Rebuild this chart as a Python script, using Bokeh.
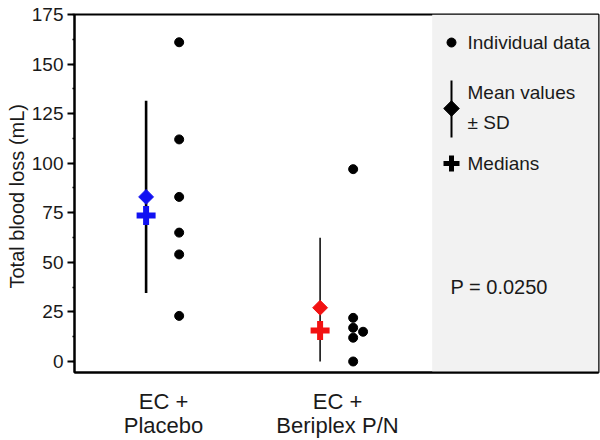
import math
from bokeh.plotting import figure
from bokeh.models import Range1d, SingleIntervalTicker, FixedTicker, BoxAnnotation, Label, ColumnDataSource, LinearAxis
from bokeh.embed import file_html
from bokeh.resources import INLINE

# ---------------- data ----------------
group_pos = [1, 2]
group_line1 = ["EC +", "EC +"]
group_line2 = ["Placebo", "Beriplex P/N"]
placebo_values = [161, 112, 83, 65, 54, 23]
placebo_dodge = [0, 0, 0, 0, 0, 0]
beriplex_values = [97, 22, 17, 12, 15, 0]
beriplex_dodge = [0, 0, 0, 0, 1, 0]
means = [83.0, 27.1]
sds = [48.5, 35.3]
medians = [73.6, 15.6]
group_colors = ["#1212f2", "#f21212"]
sd_widths = [2.6, 1.5]
p_value_text = "P = 0.0250"
legend_texts = ["Individual data", "Mean values", "\u00b1 SD", "Medians"]
y_label = "Total blood loss  (mL)"

# ---------------- layout helpers ----------------
MEAN_DX = -0.1
PT_DX = 0.09
DODGE = 0.057
FONT = "Liberation Sans"
TXT = "#1a1a1a"


def px(ix, iy):
    """reference-image pixel -> data coordinates (for annotation placement)"""
    return 1 + (ix - 163) / 174.0, (361 - iy) / 1.983


p = figure(width=600, height=440,
           x_range=Range1d(0.4885, 3.5), y_range=Range1d(-5.55, 175),
           output_backend="svg", toolbar_location=None,
           min_border_left=74, min_border_right=2, min_border_top=14, min_border_bottom=68,
           x_axis_location=None)
p.xgrid.visible = False
p.ygrid.visible = False
p.outline_line_color = "black"
p.outline_line_width = 2
p.background_fill_color = "white"

# grey side panel
panel_left = px(431.7, 0)[0]
p.add_layout(BoxAnnotation(left=panel_left, fill_color="#f2f2f2", fill_alpha=1,
                           line_color=None, level="underlay"))

# y axis
ya = p.yaxis[0]
ya.ticker = SingleIntervalTicker(interval=25, num_minor_ticks=2)
ya.axis_line_width = 2
ya.major_tick_line_width = 2
ya.major_tick_out = 7
ya.major_tick_in = 0
ya.minor_tick_out = 2
ya.minor_tick_in = 0
ya.minor_tick_line_width = 1.5
ya.major_label_text_font = FONT
ya.major_label_text_font_size = "19px"
ya.major_label_text_color = TXT
ya.major_label_standoff = 4
ya.axis_label = y_label
ya.axis_label_text_font = FONT
ya.axis_label_text_font_size = "20px"
ya.axis_label_text_font_style = "normal"
ya.axis_label_text_color = TXT
ya.axis_label_text_line_height = 0.9
ya.axis_label_standoff = 1

# x axes: first line of category labels (with axis line), second line below
def cat_axis(labels, standoff, show_line):
    ax = LinearAxis(ticker=FixedTicker(ticks=group_pos),
                    major_label_overrides={g: t for g, t in zip(group_pos, labels)})
    ax.major_tick_line_color = None
    ax.minor_tick_line_color = None
    ax.major_tick_out = 0
    ax.major_tick_in = 0
    ax.major_label_text_font = FONT
    ax.major_label_text_font_size = "22px"
    ax.major_label_text_color = TXT
    ax.major_label_standoff = standoff
    if show_line:
        ax.axis_line_width = 2
        ax.axis_line_color = "black"
    else:
        ax.axis_line_color = None
    return ax

p.add_layout(cat_axis(group_line1, 16, True), "below")
p.add_layout(cat_axis(group_line2, -4, False), "below")

# SD lines
x_mean = [g + MEAN_DX for g in group_pos]
sd_lo = [max(m - s, 0) for m, s in zip(means, sds)]
sd_hi = [m + s for m, s in zip(means, sds)]
for i in range(2):
    p.segment(x0=[x_mean[i]], y0=[sd_lo[i]], x1=[x_mean[i]], y1=[sd_hi[i]],
              line_color="black", line_width=sd_widths[i])

# individual data
xs = [group_pos[0] + PT_DX + d * DODGE for d in placebo_dodge] + \
     [group_pos[1] + PT_DX + d * DODGE for d in beriplex_dodge]
ys = placebo_values + beriplex_values
p.scatter(x=xs, y=ys, marker="circle", size=9, fill_color="black", line_color="black")

# means (diamonds) and medians (crosses)
src = ColumnDataSource(dict(x=x_mean, mean=means, med=medians, color=group_colors))
p.scatter(x="x", y="mean", source=src, marker="square", size=10.5, angle=math.pi / 4,
          fill_color="color", line_color="color")
p.scatter(x="x", y="med", source=src, marker="cross", size=19, line_width=6,
          line_color="color")

# legend in the panel
lx, ly_dot = px(451, 42)
_, ly_top = px(451, 80)
_, ly_bot = px(451, 137)
_, ly_dia = px(451, 108)
_, ly_cross = px(451, 163)
p.scatter(x=[lx], y=[ly_dot], marker="circle", size=9, fill_color="black", line_color="black")
p.segment(x0=[lx], y0=[ly_bot], x1=[lx], y1=[ly_top], line_color="black", line_width=2)
p.scatter(x=[lx], y=[ly_dia], marker="square", size=11, angle=math.pi / 4,
          fill_color="black", line_color="black")
p.scatter(x=[lx], y=[ly_cross], marker="cross", size=16, line_width=5, line_color="black")

tx = px(467, 0)[0]
for text, iy in zip(legend_texts, [42, 92, 122, 163]):
    p.add_layout(Label(x=tx, y=px(0, iy)[1], text=text, text_font=FONT,
                       text_font_size="19px", text_color=TXT,
                       text_align="left", text_baseline="middle"))

p.add_layout(Label(x=px(450, 0)[0], y=px(0, 286)[1], text=p_value_text, text_font=FONT,
                   text_font_size="20px", text_color=TXT,
                   text_align="left", text_baseline="middle"))

open("out.html", "w").write(file_html(p, INLINE))
